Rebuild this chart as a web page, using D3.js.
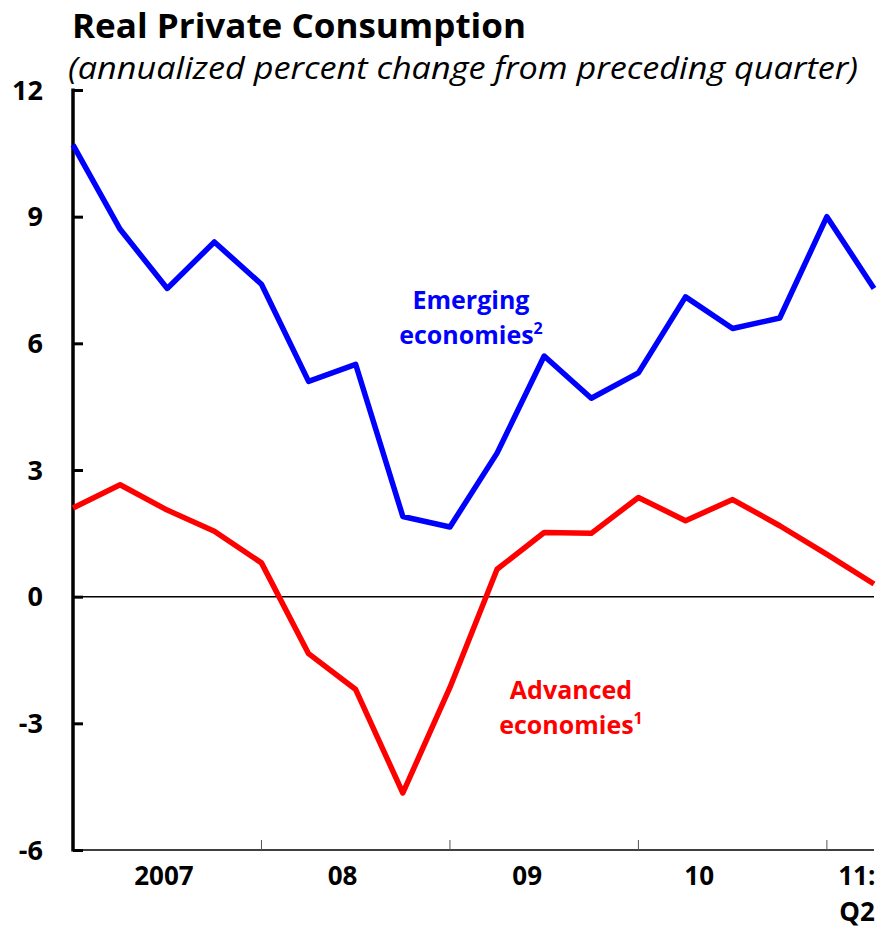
<!DOCTYPE html>
<html>
<head>
<meta charset="utf-8">
<script src="https://cdn.jsdelivr.net/npm/d3@7"></script>
<style>
  body { margin: 0; background: #fff; }
  text { font-family: "Open Sans", "DejaVu Sans", sans-serif; }
</style>
</head>
<body>
<div id="chart"></div>
<script>
// quarters 2007:Q1 .. 2011:Q2
var quarters = ["2007Q1","2007Q2","2007Q3","2007Q4","2008Q1","2008Q2","2008Q3","2008Q4",
  "2009Q1","2009Q2","2009Q3","2009Q4","2010Q1","2010Q2","2010Q3","2010Q4","2011Q1","2011Q2"];

var emerging = [10.7, 8.7, 7.3, 8.4, 7.4, 5.1, 5.5, 1.9, 1.65, 3.4, 5.7, 4.7, 5.3, 7.1, 6.35, 6.6, 9.0, 7.3];
var advanced = [2.1, 2.65, 2.05, 1.55, 0.8, -1.35, -2.2, -4.65, -2.15, 0.65, 1.52, 1.5, 2.35, 1.8, 2.3, 1.68, 1.0, 0.3];

var yTicks = [-6, -3, 0, 3, 6, 9, 12];
var yearLabels = ["2007", "08", "09", "10", "11:"];
// quarter indexes where the year ticks sit
var yearTickIdx = [4, 8, 12, 16];

var svgWidth = 879;
var svgHeight = 929;

var margin = { top: 90, right: 5, bottom: 79, left: 73 };
var width = svgWidth - margin.left - margin.right;
var height = svgHeight - margin.top - margin.bottom;

// label anchor positions, in quarter index units
var yearLabelPos = [1.93, 5.72, 9.64, 13.29, 16.24];

var svg = d3.select("#chart").append("svg")
  .attr("width", svgWidth)
  .attr("height", svgHeight);

// titles
svg.append("text")
  .attr("x", 72)
  .attr("y", 38)
  .attr("font-size", 34)
  .attr("font-weight", "bold")
  .attr("textLength", 454)
  .attr("lengthAdjust", "spacingAndGlyphs")
  .text("Real Private Consumption");

svg.append("text")
  .attr("x", 68)
  .attr("y", 79)
  .attr("font-size", 31)
  .attr("font-style", "italic")
  .attr("textLength", 790)
  .attr("lengthAdjust", "spacingAndGlyphs")
  .text("(annualized percent change from preceding quarter)");

var chartGroup = svg.append("g")
  .attr("transform", `translate(${margin.left}, ${margin.top})`);

var xScale = d3.scaleLinear()
  .domain([0, quarters.length - 1])
  .range([0, width]);

var yScale = d3.scaleLinear()
  .domain([-6, 12])
  .range([height, 0]);

// zero line
chartGroup.append("line")
  .attr("x1", 0)
  .attr("x2", width)
  .attr("y1", yScale(0))
  .attr("y2", yScale(0))
  .attr("stroke", "#000")
  .attr("stroke-width", 1.5);

// x axis (bottom)
chartGroup.append("line")
  .attr("x1", 0)
  .attr("x2", width)
  .attr("y1", height)
  .attr("y2", height)
  .attr("stroke", "#000")
  .attr("stroke-width", 1.5);

chartGroup.selectAll(".xtick")
  .data(yearTickIdx)
  .enter()
  .append("line")
  .attr("class", "xtick")
  .attr("x1", d => xScale(d))
  .attr("x2", d => xScale(d))
  .attr("y1", height)
  .attr("y2", height - 10)
  .attr("stroke", "#555")
  .attr("stroke-width", 1);

chartGroup.selectAll(".xlabel")
  .data(yearLabels)
  .enter()
  .append("text")
  .attr("class", "xlabel")
  .attr("x", (d, i) => xScale(yearLabelPos[i]))
  .attr("y", height + 35)
  .attr("text-anchor", (d, i) => i === yearLabels.length - 1 ? "start" : "middle")
  .attr("font-size", 26)
  .attr("font-weight", "bold")
  .text(d => d);

chartGroup.append("text")
  .attr("x", xScale(yearLabelPos[4]) + 1)
  .attr("y", height + 71)
  .attr("font-size", 26)
  .attr("font-weight", "bold")
  .text("Q2");

// y axis
var leftAxis = d3.axisRight(yScale)
  .tickValues(yTicks)
  .tickSize(10)
  .tickFormat("");

var yAxis = chartGroup.append("g")
  .call(leftAxis);
yAxis.select(".domain").remove();
yAxis.selectAll("line").attr("stroke", "#000").attr("stroke-width", 3);

chartGroup.append("line")
  .attr("x1", 0)
  .attr("x2", 0)
  .attr("y1", yScale(12) - 1.5)
  .attr("y2", yScale(-6) + 1.5)
  .attr("stroke", "#000")
  .attr("stroke-width", 3.5);

chartGroup.selectAll(".ylabel")
  .data(yTicks)
  .enter()
  .append("text")
  .attr("class", "ylabel")
  .attr("x", -30)
  .attr("y", d => yScale(d))
  .attr("dy", "0.36em")
  .attr("text-anchor", "end")
  .attr("font-size", 27)
  .attr("font-weight", "bold")
  .text(d => d);

// lines
var line = d3.line()
  .x((d, i) => xScale(i))
  .y(d => yScale(d));

chartGroup.append("path")
  .datum(advanced)
  .attr("fill", "none")
  .attr("stroke", "#ff0000")
  .attr("stroke-width", 5.5)
  .attr("stroke-linejoin", "round")
  .attr("d", line);

chartGroup.append("path")
  .datum(emerging)
  .attr("fill", "none")
  .attr("stroke", "#0000ff")
  .attr("stroke-width", 5.5)
  .attr("stroke-linejoin", "round")
  .attr("d", line);

// series labels
function seriesLabel(x, y, color, line1, line2, sup) {
  var g = svg.append("g")
    .attr("fill", color)
    .attr("font-size", 25)
    .attr("font-weight", "bold")
    .attr("text-anchor", "middle");
  g.append("text")
    .attr("x", x)
    .attr("y", y)
    .text(line1);
  var t = g.append("text")
    .attr("x", x)
    .attr("y", y + 35)
    .text(line2);
  t.append("tspan")
    .attr("font-size", 16)
    .attr("dy", -10)
    .text(sup);
}

seriesLabel(471, 309, "#0000ff", "Emerging", "economies", "2");
seriesLabel(571, 699, "#ff0000", "Advanced", "economies", "1");
</script>
</body>
</html>
